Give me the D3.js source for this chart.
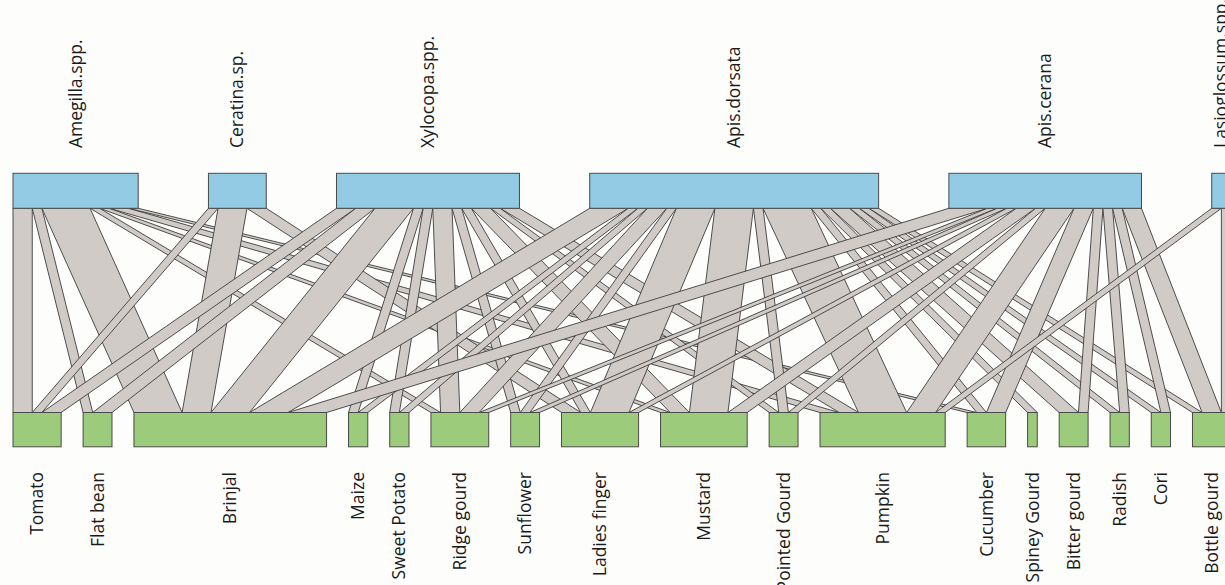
<!DOCTYPE html>
<html>
<head>
<meta charset="utf-8">
<script src="https://cdn.jsdelivr.net/npm/d3@7"></script>
<style>
  html, body { margin: 0; padding: 0; background: #fdfdfb; }
  svg { display: block; }
  text { font-family: "Open Sans", "Noto Sans", sans-serif; fill: #1a1a1a; }
</style>
</head>
<body>
<svg id="web" width="1225" height="585"></svg>
<script>
// Pollinator (upper level) and crop (lower level) names
const pollinators = ["Amegilla.spp.", "Ceratina.sp.", "Xylocopa.spp.", "Apis.dorsata", "Apis.cerana", "Lasioglossum.spp."];
const crops = ["Tomato", "Flat bean", "Brinjal", "Maize", "Sweet Potato", "Ridge gourd", "Sunflower",
  "Ladies finger", "Mustard", "Pointed Gourd", "Pumpkin", "Cucumber", "Spiney Gourd",
  "Bitter gourd", "Radish", "Cori", "Bottle gourd"];

// Visits of each pollinator to each crop (same order as `crops`)
const amegilla     = [2, 1, 5, 0, 0, 1, 0, 0, 1, 0, 2, 1, 0, 0, 0, 0, 0];
const ceratina     = [1, 0, 3, 0, 0, 0, 0, 2, 0, 0, 0, 0, 0, 0, 0, 0, 0];
const xylocopa     = [2, 2, 4, 1, 1, 2, 1, 1, 2, 1, 2, 0, 0, 0, 0, 0, 0];
const apisDorsata  = [0, 0, 4, 1, 1, 2, 1, 4, 4, 1, 5, 1, 1, 2, 1, 1, 1];
const apisCerana   = [0, 0, 4, 0, 0, 1, 1, 1, 2, 1, 3, 2, 0, 1, 1, 1, 2];
const lasioglossum = [0, 0, 0, 0, 0, 0, 0, 0, 0, 0, 1, 0, 0, 0, 0, 0, 1];

const web = [amegilla, ceratina, xylocopa, apisDorsata, apisCerana, lasioglossum];

// ---- layout -------------------------------------------------------------
const svg = d3.select("#web");
const unitPx = 9.63;           // pixels per visit
const left = 13;
const lowGap = 2.28;           // gap between crop boxes, in visit units
const total = d3.sum(web, r => d3.sum(r));
const span = total + lowGap * (crops.length - 1);
const highGap = lowGap * (crops.length - 1) / (pollinators.length - 1);

const x = d3.scaleLinear().domain([0, span]).range([left, left + span * unitPx]);

const topY0 = 173.3, topY1 = 208.3;
const botY0 = 412.5, botY1 = 446.8;

// marginal totals
const highTot = web.map(r => d3.sum(r));
const lowTot = crops.map((_, j) => d3.sum(web, r => r[j]));

// box start positions (in units)
const highStart = [];
{ let s = 0; highTot.forEach((t, i) => { highStart.push(s); s += t + highGap; }); }
const lowStart = [];
{ let s = 0; lowTot.forEach((t, j) => { lowStart.push(s); s += t + lowGap; }); }

// link positions: on the upper box ordered by crop, on the lower box ordered by pollinator
const links = [];
const highCursor = highStart.slice();
const lowOffset = lowStart.slice();
const lowPos = web.map(() => new Array(crops.length).fill(0));
for (let j = 0; j < crops.length; j++) {
  for (let i = 0; i < pollinators.length; i++) {
    if (web[i][j] > 0) { lowPos[i][j] = lowOffset[j]; lowOffset[j] += web[i][j]; }
  }
}
for (let i = 0; i < pollinators.length; i++) {
  for (let j = 0; j < crops.length; j++) {
    const v = web[i][j];
    if (v > 0) {
      links.push({ i, j, v, top: highCursor[i], bot: lowPos[i][j] });
      highCursor[i] += v;
    }
  }
}

// ---- links --------------------------------------------------------------
svg.append("g")
  .selectAll("path")
  .data(links)
  .join("path")
  .attr("d", d => {
    const p = [
      [x(d.top), topY1], [x(d.top + d.v), topY1],
      [x(d.bot + d.v), botY0], [x(d.bot), botY0]
    ];
    return "M" + p.map(q => q.join(",")).join("L") + "Z";
  })
  .attr("fill", "#d1cbc8")
  .attr("stroke", "#3c3c3c")
  .attr("stroke-width", 0.9)
  .attr("stroke-linejoin", "miter");

// ---- boxes --------------------------------------------------------------
svg.append("g")
  .selectAll("rect")
  .data(pollinators)
  .join("rect")
  .attr("x", (d, i) => x(highStart[i]))
  .attr("y", topY0)
  .attr("width", (d, i) => x(highStart[i] + highTot[i]) - x(highStart[i]))
  .attr("height", topY1 - topY0)
  .attr("fill", "#92cbe3")
  .attr("stroke", "#4a4a4a")
  .attr("stroke-width", 1);

svg.append("g")
  .selectAll("rect")
  .data(crops)
  .join("rect")
  .attr("x", (d, j) => x(lowStart[j]))
  .attr("y", botY0)
  .attr("width", (d, j) => x(lowStart[j] + lowTot[j]) - x(lowStart[j]))
  .attr("height", botY1 - botY0)
  .attr("fill", "#9ccb7c")
  .attr("stroke", "#4a4a4a")
  .attr("stroke-width", 1);

// ---- labels -------------------------------------------------------------
svg.append("g")
  .selectAll("text")
  .data(pollinators)
  .join("text")
  .attr("transform", (d, i) => `translate(${x(highStart[i] + highTot[i] / 2)},148) rotate(-90)`)
  .attr("dy", "0.35em")
  .attr("text-anchor", "start")
  .attr("font-size", 17.5)
  .text(d => d);

svg.append("g")
  .selectAll("text")
  .data(crops)
  .join("text")
  .attr("transform", (d, j) => `translate(${x(lowStart[j] + lowTot[j] / 2)},472) rotate(-90)`)
  .attr("dy", "0.35em")
  .attr("text-anchor", "end")
  .attr("font-size", 17.5)
  .text(d => d);
</script>
</body>
</html>
